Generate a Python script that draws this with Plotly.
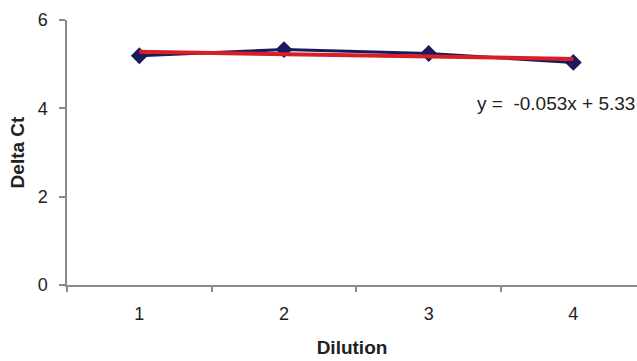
import numpy as np
import plotly.graph_objects as go

dilution = [1, 2, 3, 4]
delta_ct = [5.19, 5.33, 5.24, 5.04]
y_ticks = [0, 2, 4, 6]
equation_label = "y =  -0.053x + 5.33"

slope, intercept = np.polyfit(dilution, delta_ct, 1)
trend = [slope * x + intercept for x in dilution]

fig = go.Figure()
fig.add_trace(go.Scatter(
    x=dilution, y=delta_ct, mode="lines+markers",
    line=dict(color="#1b1a5c", width=3),
    marker=dict(symbol="diamond", size=13, color="#1b1a5c"),
    showlegend=False,
))
fig.add_trace(go.Scatter(
    x=dilution, y=trend, mode="lines",
    line=dict(color="#d81f26", width=4),
    showlegend=False,
))
fig.add_annotation(
    x=3.877, y=4.10, xref="x", yref="y", text=equation_label, showarrow=False,
    font=dict(family="Liberation Sans, Arial, sans-serif", size=19, color="#222"),
)
fig.update_layout(
    width=637, height=361,
    margin=dict(l=67, r=0, t=20, b=76),
    paper_bgcolor="white", plot_bgcolor="white",
    font=dict(family="Liberation Sans, Arial, sans-serif", size=18, color="#222"),
)
fig.update_xaxes(
    range=[0.5, 4.44], tickvals=dilution, ticktext=[str(d) for d in dilution],
    ticks="", showgrid=False, zeroline=False,
    showline=True, linecolor="#8a8a8a", linewidth=1.5,
    ticklabelstandoff=12,
    minor=dict(tickvals=[0.5, 1.5, 2.5, 3.5, 4.5], ticks="outside", ticklen=5,
               tickcolor="#8a8a8a", tickwidth=1.5),
    title=dict(text="<b>Dilution</b>", font=dict(size=19), standoff=17),
)
fig.update_yaxes(
    range=[0, 6], tickvals=y_ticks, ticks="outside", ticklen=6,
    tickcolor="#8a8a8a", tickwidth=1.5,
    showgrid=False, zeroline=False,
    showline=True, linecolor="#8a8a8a", linewidth=1.5,
    ticklabelstandoff=8,
    title=dict(text="<b>Delta Ct</b>", font=dict(size=19), standoff=8),
)
fig.write_html("out.html")
